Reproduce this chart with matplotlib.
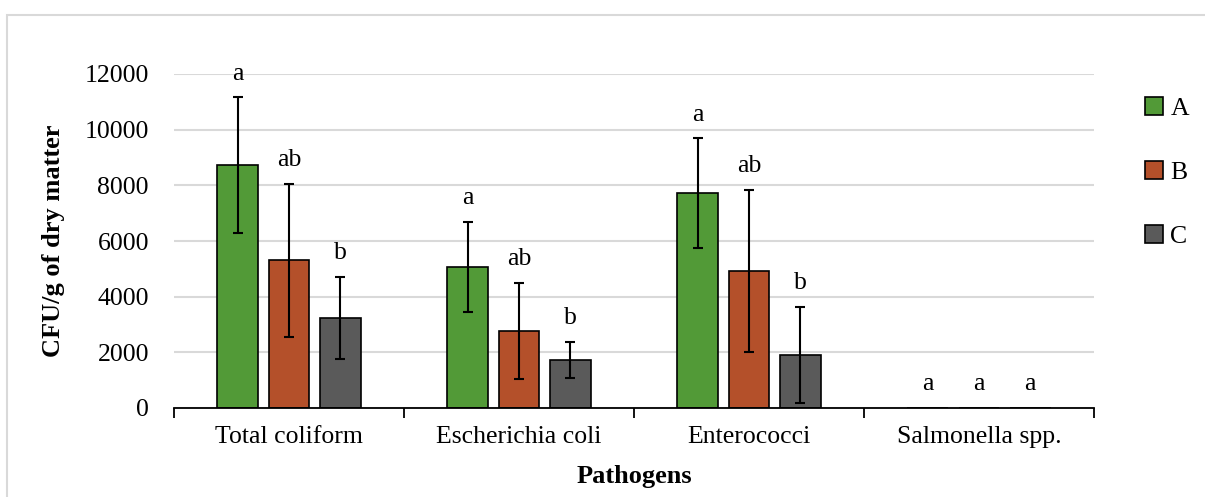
import matplotlib
matplotlib.use("Agg")
import matplotlib.pyplot as plt
import numpy as np
from matplotlib.patches import Rectangle

categories = ["Total coliform", "Escherichia coli", "Enterococci", "Salmonella spp."]
groups = ["A", "B", "C"]
means_A = [8720, 5070, 7720, 0]
means_B = [5300, 2770, 4930, 0]
means_C = [3240, 1720, 1910, 0]
err_A = [2440, 1625, 1975, 0]
err_B = [2750, 1730, 2920, 0]
err_C = [1480, 660, 1720, 0]
letters_A = ["a", "a", "a", "a"]
letters_B = ["ab", "ab", "ab", "a"]
letters_C = ["b", "b", "b", "a"]
yticks = [0, 2000, 4000, 6000, 8000, 10000, 12000]

colors = ["#529a37", "#b4502a", "#5a5a5a"]
means = [means_A, means_B, means_C]
errs = [err_A, err_B, err_C]
letters = [letters_A, letters_B, letters_C]

plt.rcParams['font.family'] = ['Liberation Serif', 'DejaVu Serif']

fig = plt.figure(figsize=(12.05, 4.97), dpi=100)
# light frame around the chart
fig.patches.append(Rectangle((7/1205, -0.1), 1.2, 1 - 15/497 + 0.1, transform=fig.transFigure,
                             fill=False, edgecolor="#d9d9d9", linewidth=1.5))

ax = fig.add_axes([174/1205, 1 - 408/497, (1094-174)/1205, (408-74)/497])

x = np.arange(len(categories))
width = 0.178
step = 0.222
for i in range(3):
    pos = x + (i - 1) * step
    ax.bar(pos, means[i], width=width, color=colors[i], edgecolor="black", linewidth=1.2,
           label=groups[i], zorder=3)
    m = np.array(means[i]); e = np.array(errs[i])
    has = e > 0
    ax.errorbar(pos[has], m[has], yerr=e[has], fmt="none", ecolor="black", elinewidth=1.5,
                capsize=3.5, capthick=1.5, zorder=4)
    for j in range(len(categories)):
        top = means[i][j] + errs[i][j]
        ax.annotate(letters[i][j], (pos[j], top), xytext=(0, 9), textcoords="offset points",
                    ha="center", va="bottom", fontsize=18.5)

ax.set_xlim(-0.5, 3.5)
ax.set_ylim(0, 12000)
ax.set_yticks(yticks)
ax.set_yticklabels([str(v) for v in yticks], fontsize=18.5)
ax.set_xticks(x)
ax.set_xticklabels(categories, fontsize=18.5)
ax.set_xticks(np.arange(-0.5, 4, 1.0), minor=True)
ax.tick_params(axis="x", which="major", length=0, pad=13)
ax.tick_params(axis="x", which="minor", length=7, width=1.3, direction="out", color="black")
ax.tick_params(axis="y", length=0, pad=18)
ax.grid(axis="y", color="#d9d9d9", linewidth=1.5, zorder=0)
ax.set_axisbelow(True)
for s in ["left", "right", "top"]:
    ax.spines[s].set_visible(False)
ax.spines["bottom"].set_color("black")
ax.spines["bottom"].set_linewidth(1.3)
ax.spines["bottom"].set_zorder(5)

ax.set_xlabel("Pathogens", fontsize=19, fontweight="bold", labelpad=12)
ax.set_ylabel("CFU/g of dry matter", fontsize=19, fontweight="bold", labelpad=14)

leg = ax.legend(loc="upper left", bbox_to_anchor=(1.03, 1.0), frameon=False, fontsize=18.5,
                handlelength=0.7, handleheight=0.7, handletextpad=0.3, labelspacing=1.6)

fig.savefig("out.png", dpi=100)
